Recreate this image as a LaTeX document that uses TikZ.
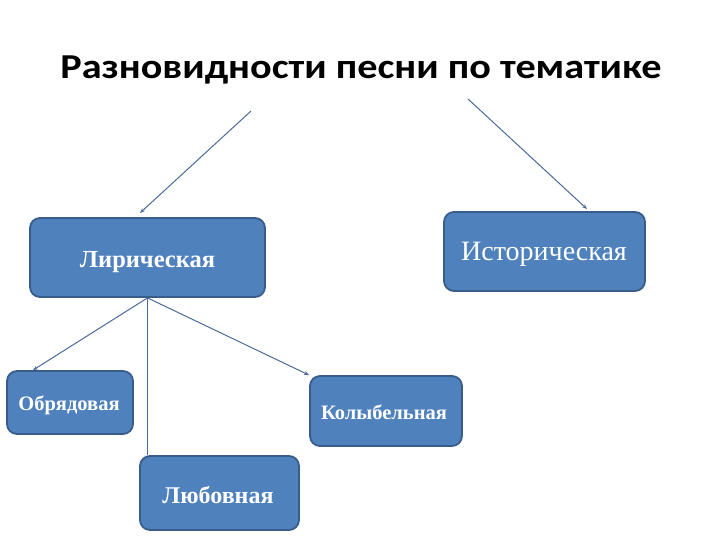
\documentclass[tikz,border=0pt]{standalone}
\usepackage{fontspec}
\setmainfont{Liberation Serif}
\newfontfamily\titlefont{Carlito}
\usetikzlibrary{arrows.meta,calc}
\definecolor{boxfill}{HTML}{4F81BD}
\definecolor{boxline}{HTML}{385D8A}
\definecolor{arrowc}{HTML}{4A6A9A}
\begin{document}
\begin{tikzpicture}[x=1pt,y=-1pt,
  box/.style={draw=boxline,line width=1.8pt,fill=boxfill,rounded corners=10pt,text=white,inner sep=0pt},
  conn/.style={draw=arrowc,line width=1pt,-{Stealth[length=5pt,width=4pt]}},
  plain/.style={draw=arrowc,line width=0.8pt}]
\useasboundingbox (0,0) rectangle (720,540);
\node[font=\titlefont\fontsize{35}{40}\selectfont\bfseries] (title) at (361,70) {\scalebox{1.15}[1]{Разновидности песни по тематике}};
\node[box,minimum width=235pt,minimum height=79pt] (lyr) at (147.5,257.5) {};
\node[text=white,font=\fontsize{24.5}{28}\selectfont\bfseries] at (147.5,262) {Лирическая};
\node[box,minimum width=201pt,minimum height=79pt] (ist) at (544.5,251.5) {};
\node[text=white,font=\fontsize{28}{32}\selectfont] at (544,254) {Историческая};
\node[box,minimum width=126pt,minimum height=63pt] (obr) at (70,402.5) {};
\node[text=white,font=\fontsize{20.5}{24}\selectfont\bfseries] at (69,405) {Обрядовая};
\node[box,minimum width=152pt,minimum height=70pt] (kol) at (386,411) {};
\node[text=white,font=\fontsize{20.5}{24}\selectfont\bfseries] at (384,412) {Колыбельная};
\node[box,minimum width=159pt,minimum height=74pt] (lub) at (219.5,493) {};
\node[text=white,font=\fontsize{24}{28}\selectfont\bfseries] at (218,495) {Любовная};
\coordinate (s1) at (251,111);
\coordinate (e1) at (140,213);
\coordinate (s2) at (468,99);
\coordinate (e2) at (587,209);
\draw[conn] (s1) -- (e1);
\draw[conn] (s2) -- (e2);
\draw[conn] (lyr.south) -- ([xshift=-37pt]obr.north);
\draw[conn] (lyr.south) -- (kol.north west);
\draw[plain] (lyr.south) -- (lyr.south |- lub.north);
\end{tikzpicture}
\end{document}
